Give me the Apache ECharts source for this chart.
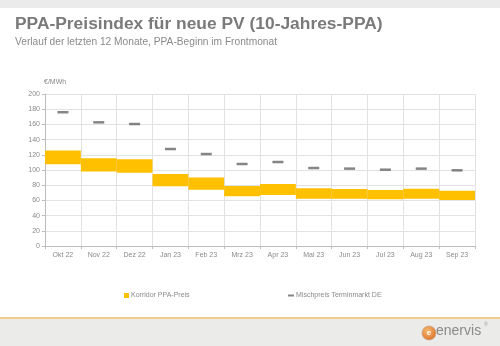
<!DOCTYPE html>
<html>
<head>
<meta charset="utf-8">
<script src="https://cdn.jsdelivr.net/npm/echarts@6/dist/echarts.min.js"></script>
<style>
html,body{margin:0;padding:0;background:#fff;}
#c{width:500px;height:346px;}
</style>
</head>
<body>
<div id="c"></div>
<script>
const categories = ['Okt 22','Nov 22','Dez 22','Jan 23','Feb 23','Mrz 23','Apr 23','Mai 23','Jun 23','Jul 23','Aug 23','Sep 23'];
const korridorLow  = [107.5, 98, 96.5, 78.7, 74, 65.5, 67, 62.3, 62.3, 61.4, 62.3, 60.5];
const korridorHigh = [125.5, 115.5, 114, 94.7, 90.2, 79, 81.6, 75.9, 75, 73.7, 75.4, 72.8];
const mischpreis   = [176, 162.7, 160.5, 127.6, 121, 107.9, 110.5, 102.6, 101.8, 100.4, 101.8, 99.6];
const yTicks = { min: 0, max: 200, interval: 20 };

const band = korridorHigh.map((h, i) => +(h - korridorLow[i]).toFixed(2));
const font = 'Liberation Sans, Arial, sans-serif';

const chart = echarts.init(document.getElementById('c'), null, { renderer: 'canvas' });
chart.setOption({
  animation: false,
  backgroundColor: '#ffffff',
  textStyle: { fontFamily: font },
  grid: { left: 45, right: 25, top: 94, bottom: 100, containLabel: false },
  xAxis: {
    type: 'category',
    data: categories,
    boundaryGap: true,
    axisLine: { lineStyle: { color: '#bdbdbd', width: 1 } },
    axisTick: { show: true, length: 3, lineStyle: { color: '#bdbdbd' } },
    axisLabel: { color: '#8a8a8a', fontSize: 7, margin: 6, fontFamily: font },
    splitLine: { show: true, lineStyle: { color: '#e2e2e2', width: 1 } }
  },
  yAxis: {
    type: 'value',
    min: yTicks.min, max: yTicks.max, interval: yTicks.interval,
    name: '€/MWh',
    nameLocation: 'end',
    nameGap: 8,
    nameTextStyle: { color: '#8a8a8a', fontSize: 7, align: 'left', padding: [0, 0, 0, -1] },
    axisLine: { show: true, lineStyle: { color: '#bdbdbd' } },
    axisTick: { show: true, length: 3, lineStyle: { color: '#bdbdbd' } },
    axisLabel: { color: '#8a8a8a', fontSize: 7, margin: 5, fontFamily: font },
    splitLine: { lineStyle: { color: '#e2e2e2', width: 1 } }
  },
  legend: [
    {
      data: [{ name: 'Korridor PPA-Preis', icon: 'rect' }],
      left: 119, top: 287,
      itemWidth: 5, itemHeight: 5, itemGap: 4,
      textStyle: { color: '#8a8a8a', fontSize: 7, padding: [0, 0, 0, -3] },
      selectedMode: false
    },
    {
      data: [{ name: 'Mischpreis Terminmarkt DE', icon: 'rect' }],
      left: 283, top: 287,
      itemWidth: 6, itemHeight: 2, itemGap: 4,
      itemStyle: { color: '#666666' },
      textStyle: { color: '#8a8a8a', fontSize: 7, padding: [0, 0, 0, -3] },
      selectedMode: false
    }
  ],
  series: [
    {
      name: 'base',
      type: 'bar',
      stack: 'k',
      data: korridorLow,
      itemStyle: { color: 'rgba(0,0,0,0)' },
      barCategoryGap: '0%',
      silent: true
    },
    {
      name: 'Korridor PPA-Preis',
      type: 'bar',
      stack: 'k',
      data: band,
      itemStyle: { color: '#ffc000' },
      barCategoryGap: '0%'
    },
    {
      name: 'Mischpreis Terminmarkt DE',
      type: 'scatter',
      data: mischpreis,
      symbol: 'rect',
      symbolSize: [11, 2.5],
      itemStyle: { color: '#666666' },
      z: 5
    }
  ],
  graphic: [
    { type: 'rect', left: 0, top: 0, shape: { width: 500, height: 8 }, style: { fill: '#ebebeb' }, silent: true },
    { type: 'text', left: 15, top: 16, style: { text: 'PPA-Preisindex für neue PV (10-Jahres-PPA)', fill: '#7a7a7a', font: 'bold 17.4px Liberation Sans, Arial, sans-serif' } },
    { type: 'text', left: 15, top: 37, style: { text: 'Verlauf der letzten 12 Monate, PPA-Beginn im Frontmonat', fill: '#8a8a8a', font: '10.2px Liberation Sans, Arial, sans-serif' } },
    { type: 'rect', left: 0, top: 319, shape: { width: 500, height: 27 }, style: { fill: '#ebebe9' }, silent: true },
    { type: 'rect', left: 0, top: 317, shape: { width: 500, height: 2 }, style: { fill: '#f3c98e' }, silent: true },
    {
      type: 'circle', shape: { cx: 429, cy: 333, r: 7 },
      style: {
        fill: new echarts.graphic.RadialGradient(0.4, 0.35, 0.8, [
          { offset: 0, color: '#f7b870' }, { offset: 1, color: '#d9661c' }
        ]),
        stroke: '#c9a58a', lineWidth: 0.8
      }
    },
    { type: 'text', x: 429, y: 333, style: { text: 'e', fill: '#ffffff', font: 'bold 8px Liberation Sans, Arial, sans-serif', align: 'center', verticalAlign: 'middle' } },
    { type: 'text', left: 436, top: 324, style: { text: 'enervis', fill: '#8a8a8a', font: '14px Liberation Sans, Arial, sans-serif' } },
    { type: 'text', left: 484, top: 322, style: { text: '®', fill: '#9a9a9a', font: '5px Liberation Sans, Arial, sans-serif' } }
  ]
});
</script>
</body>
</html>
